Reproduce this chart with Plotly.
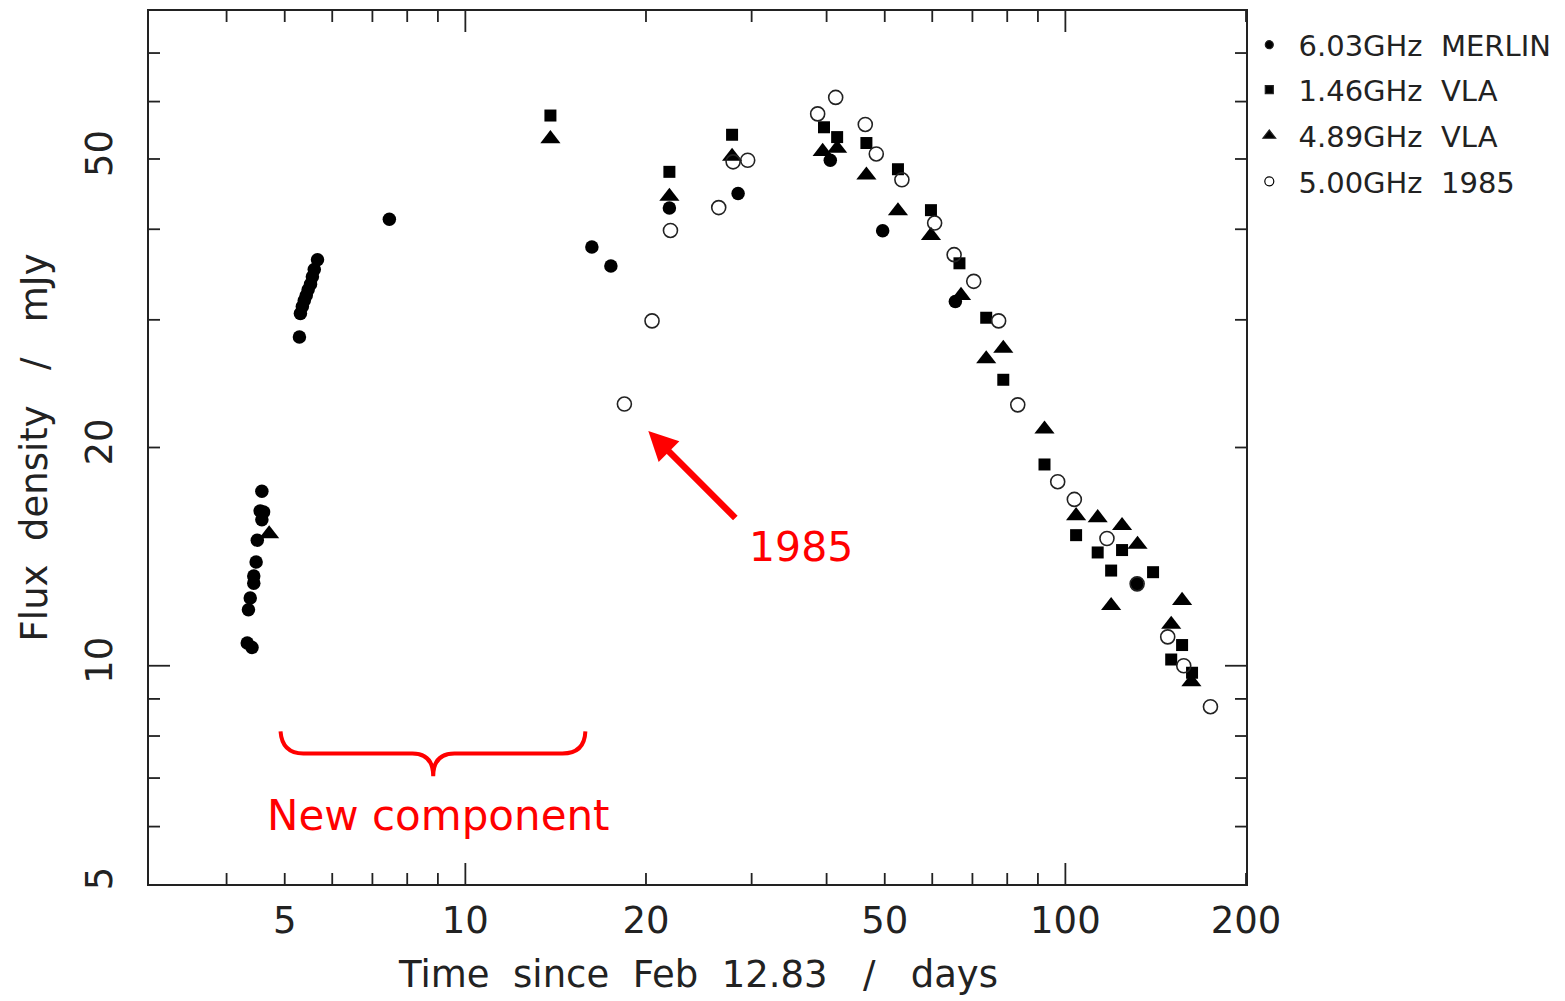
import numpy as np
import plotly.graph_objects as go

# ---------------- data (days since Feb 12.83, flux density in mJy) ----------------
merlin_t = [4.58, 4.55, 4.61, 4.58, 4.50, 4.48, 4.44, 4.44, 4.38, 4.35, 4.33, 4.41,
            5.29, 5.31, 5.35, 5.39, 5.43, 5.47, 5.52, 5.56, 5.60, 5.67,
            7.47, 16.25, 17.48, 21.88, 28.48, 40.57, 49.6, 65.56, 131.7]
merlin_s = [17.4, 16.35, 16.3, 15.9, 14.9, 13.9, 13.3, 13.0, 12.4, 11.95, 10.75, 10.6,
            28.4, 30.6, 31.3, 31.9, 32.4, 33.0, 33.6, 34.4, 35.2, 36.3,
            41.3, 37.8, 35.6, 42.8, 44.8, 49.8, 39.8, 31.8, 12.97]

vla146_t = [13.86, 21.88, 27.83, 39.6, 41.65, 46.6, 52.6, 59.7, 66.6, 73.8, 78.8,
            92.3, 104.2, 113.2, 119.2, 124.3, 140.0, 156.5, 150.1, 162.6]
vla146_s = [57.4, 48.0, 54.0, 55.3, 53.6, 52.6, 48.4, 42.5, 35.9, 30.2, 24.8,
            18.95, 15.14, 14.33, 13.53, 14.44, 13.46, 10.68, 10.2, 9.78]

vla489_t = [4.71, 13.86, 21.88, 27.83, 39.4, 41.65, 46.6, 52.6, 59.7, 67.0, 78.8, 73.8,
            92.3, 104.2, 113.2, 124.3, 131.9, 119.2, 156.5, 150.1, 162.2]
vla489_s = [15.2, 53.3, 44.4, 50.4, 51.2, 51.7, 47.5, 42.4, 39.2, 32.4, 27.4, 26.5,
            21.2, 16.1, 16.0, 15.6, 14.7, 12.1, 12.3, 11.4, 9.5]

y1985_t = [18.41, 20.47, 21.97, 26.44, 27.94, 29.55, 38.65, 41.42, 46.4, 48.4, 53.4,
           60.55, 65.25, 70.35, 77.4, 83.3, 97.1, 103.5, 117.3, 131.7, 148.1, 157.5, 174.5]
y1985_s = [22.96, 29.9, 39.85, 42.85, 49.55, 49.8, 57.7, 60.8, 55.8, 50.8, 46.8,
           40.8, 36.9, 33.9, 29.9, 22.9, 17.94, 16.96, 14.98, 12.97, 10.96, 10.0, 8.78]

series_names = ["\u00a06.03GHz\u00a0 MERLIN", "\u00a01.46GHz\u00a0 VLA",
                "\u00a04.89GHz\u00a0 VLA", "\u00a05.00GHz\u00a0 1985"]

x_ticklabels = [5, 10, 20, 50, 100, 200]
y_ticklabels = [5, 10, 20, 50]
x_minor = [4, 5, 6, 7, 8, 9, 20, 30, 40, 50, 60, 70, 80, 90, 200]
x_major = [10, 100]
y_minor = [6, 7, 8, 9, 20, 30, 40, 50, 60, 70]
y_major = [10]

XR = [np.log10(2.97), np.log10(200)]
YR = [np.log10(5), np.log10(80)]

INK = "#222222"
RED = "#ff0000"
FONT = "DejaVu Sans"

fig = go.Figure()

fig.add_trace(go.Scatter(x=merlin_t, y=merlin_s, mode="markers", showlegend=False,
                         marker=dict(symbol="circle", size=13.5, color="black")))
fig.add_trace(go.Scatter(x=vla146_t, y=vla146_s, mode="markers", showlegend=False,
                         marker=dict(symbol="square", size=12, color="black")))
fig.add_trace(go.Scatter(x=vla489_t, y=vla489_s, mode="markers", showlegend=False,
                         marker=dict(symbol="triangle-up", size=17.5, color="black")))
fig.add_trace(go.Scatter(x=y1985_t, y=y1985_s, mode="markers", showlegend=False,
                         marker=dict(symbol="circle-open", size=14, color=INK,
                                     line=dict(width=1.6, color=INK))))

# legend entries with small symbols, one legend per row
leg_sym = [("circle", 8), ("square", 8), ("triangle-up", 11), ("circle-open", 9)]
leg_ids = ["legend", "legend2", "legend3", "legend4"]
leg_y = [0.9612, 0.9098, 0.8572, 0.8047]
for name, (sym, sz), lid in zip(series_names, leg_sym, leg_ids):
    fig.add_trace(go.Scatter(x=[None], y=[None], mode="markers", name=name, legend=lid,
                             marker=dict(symbol=sym, size=sz, color="black",
                                         line=dict(width=1.2, color=INK))))

# tick marks (inside, on all four sides)
shapes = []
def xtick(v, L):
    for anchor, d in ((0, L), (1, -L)):
        shapes.append(dict(type="line", xref="x", yref="paper", ysizemode="pixel",
                           yanchor=anchor, x0=v, x1=v, y0=0, y1=d,
                           line=dict(color=INK, width=1.8)))
def ytick(v, L):
    for anchor, d in ((0, L), (1, -L)):
        shapes.append(dict(type="line", yref="y", xref="paper", xsizemode="pixel",
                           xanchor=anchor, y0=v, y1=v, x0=0, x1=d,
                           line=dict(color=INK, width=1.8)))
for v in x_minor:
    xtick(v, 11)
for v in x_major:
    xtick(v, 21)
for v in y_minor:
    ytick(v, 11)
for v in y_major:
    ytick(v, 21)

# red brace under the "new component" interval
def paper(xd, yd):
    return ((np.log10(xd) - XR[0]) / (XR[1] - XR[0]),
            (np.log10(yd) - YR[0]) / (YR[1] - YR[0]))

brace_pts = [("M", [(4.92, 8.12)]),
             ("Q", [(4.95, 7.57), (5.37, 7.57)]),
             ("L", [(8.16, 7.57)]),
             ("Q", [(8.84, 7.57), (8.84, 7.04)]),
             ("Q", [(8.84, 7.57), (9.59, 7.57)]),
             ("L", [(14.51, 7.57)]),
             ("Q", [(15.8, 7.57), (15.85, 8.12)])]
path = ""
for cmd, pts in brace_pts:
    path += cmd + " " + " ".join("%.5f,%.5f" % paper(a, b) for a, b in pts) + " "
shapes.append(dict(type="path", xref="paper", yref="paper", path=path.strip(),
                   line=dict(color=RED, width=4)))

annotations = [
    dict(x=np.log10(9.02), y=np.log10(6.21), xref="x", yref="y", text="New component",
         xanchor="center", yanchor="middle", showarrow=False,
         font=dict(family=FONT, size=42, color=RED)),
    dict(x=np.log10(36.2), y=np.log10(14.56), xref="x", yref="y", text="1985",
         xanchor="center", yanchor="middle", showarrow=False,
         font=dict(family=FONT, size=41, color=RED)),
    dict(x=np.log10(20.18), y=np.log10(21.08), xref="x", yref="y", text="\u00a0",
         font=dict(size=2, color=RED),
         showarrow=True, ax=89, ay=89, arrowhead=2, arrowsize=0.9, arrowwidth=6.5,
         arrowcolor=RED, standoff=0),
    dict(x=0.5, y=-0.104, xref="paper", yref="paper", xanchor="center", yanchor="middle",
         text="Time\u00a0 since\u00a0 Feb\u00a0 12.83\u00a0 \u00a0/\u00a0 \u00a0days",
         showarrow=False, font=dict(family=FONT, size=37, color=INK)),
    dict(x=-0.104, y=0.5, xref="paper", yref="paper", xanchor="center", yanchor="middle",
         textangle=-90,
         text="Flux\u00a0 density\u00a0 \u00a0/\u00a0 \u00a0mJy",
         showarrow=False, font=dict(family=FONT, size=37, color=INK)),
]

legend_common = dict(x=1.003, xanchor="left", yanchor="middle",
                     font=dict(family=FONT, size=29, color=INK),
                     bgcolor="rgba(0,0,0,0)", borderwidth=0)

fig.update_layout(
    width=1565, height=1001,
    margin=dict(l=141, r=327, t=1, b=125),
    paper_bgcolor="white", plot_bgcolor="white",
    font=dict(family=FONT, color=INK),
    shapes=shapes, annotations=annotations,
    legend=dict(y=leg_y[0], **legend_common),
    legend2=dict(y=leg_y[1], **legend_common),
    legend3=dict(y=leg_y[2], **legend_common),
    legend4=dict(y=leg_y[3], **legend_common),
    xaxis=dict(type="log", range=XR, showgrid=False, zeroline=False,
               tickvals=x_ticklabels, ticktext=[str(v) for v in x_ticklabels],
               ticks="", ticklabelstandoff=3,
               tickfont=dict(family=FONT, size=37, color=INK),
               showline=True, mirror=True, linecolor=INK, linewidth=2),
    yaxis=dict(type="log", range=YR, showgrid=False, zeroline=False,
               tickvals=y_ticklabels, ticktext=[str(v) for v in y_ticklabels],
               ticks="", tickangle=-90, ticklabelstandoff=20,
               tickfont=dict(family=FONT, size=37, color=INK),
               showline=True, mirror=True, linecolor=INK, linewidth=2),
)

fig.write_html("out.html")
